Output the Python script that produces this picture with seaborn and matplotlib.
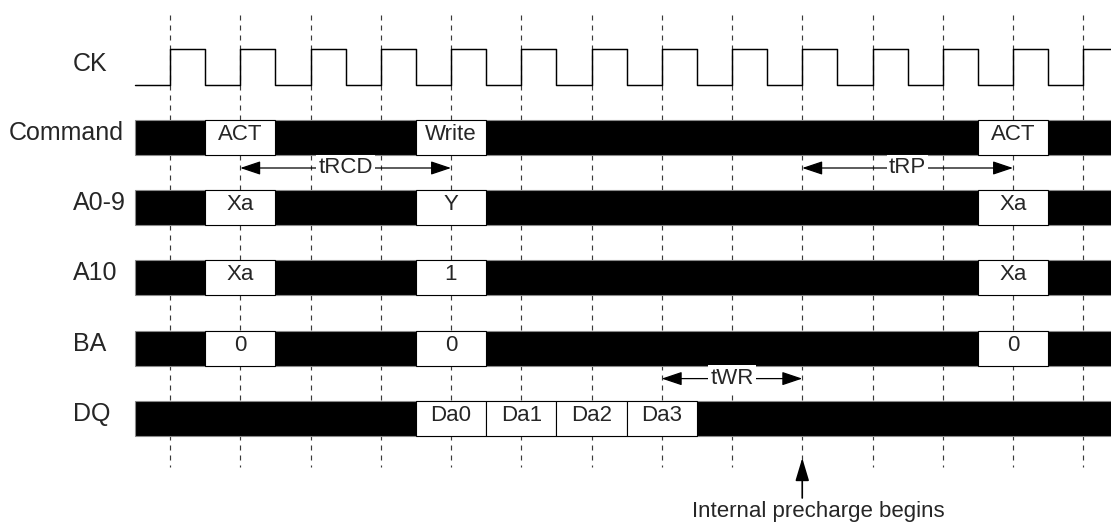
import matplotlib
matplotlib.use("Agg")
import matplotlib.pyplot as plt
import seaborn as sns
import pandas as pd
from matplotlib.patches import FancyArrowPatch

# ---------------- data ----------------
signal_names = ["Command", "A0-9", "A10", "BA", "DQ"]
command_boxes = [(1, "ACT"), (4, "Write"), (12, "ACT")]
a09_boxes = [(1, "Xa"), (4, "Y"), (12, "Xa")]
a10_boxes = [(1, "Xa"), (4, "1"), (12, "Xa")]
ba_boxes = [(1, "0"), (4, "0"), (12, "0")]
dq_boxes = [(4, "Da0"), (5, "Da1"), (6, "Da2"), (7, "Da3")]
row_boxes = [command_boxes, a09_boxes, a10_boxes, ba_boxes, dq_boxes]
clock_levels = [0, 1, 0, 1, 0, 1, 0, 1, 0, 1, 0, 1, 0, 1,
                0, 1, 0, 1, 0, 1, 0, 1, 0, 1, 0, 1, 0, 1]
clock_edges = list(range(14))            # dashed reference lines at each rising edge
timing_labels = ["tRCD", "tRP", "tWR"]
timing_from = [1, 9, 7]
timing_to = [4, 12, 9]
timing_row = [0, 0, 3]                   # arrow drawn below this row
precharge_cycle = 9
precharge_text = "Internal precharge begins"

# ---------------- layout ----------------
PX0, PER = 170.0, 70.25                  # pixel of cycle 0, pixels per cycle
W, H = 1111, 525
row_y0, row_dy, half_h = 137.5, 70.2, 17.5
ck_hi, ck_lo = 49, 85

sns.set_style("white")
plt.rcParams["font.family"] = ["Liberation Sans", "DejaVu Sans"]
plt.rcParams["lines.scale_dashes"] = False

fig = plt.figure(figsize=(W / 100, H / 100), dpi=100)
ax = fig.add_axes([0, 0, 1, 1])

# dashed vertical reference lines
ax.vlines(clock_edges, 15, 467, colors="#3a3a3a", linewidth=0.85,
          linestyles=(0, (3.6, 3.6)), zorder=1)

# clock
t = [-0.5 + 0.5 * i for i in range(len(clock_levels) + 1)]
lv = clock_levels + [clock_levels[-1]]
ck = pd.DataFrame({"t": t, "y": [ck_lo + (ck_hi - ck_lo) * l for l in lv]})
sns.lineplot(data=ck, x="t", y="y", drawstyle="steps-post", color="black",
             linewidth=1.05, ax=ax, zorder=3, estimator=None, sort=False)
ax.set_xlim(-PX0 / PER, (W - PX0) / PER)
ax.set_ylim(H, 0)
ax.axis("off")
ax.text((73 - PX0) / PER, 64, "CK", fontsize=18, ha="left", va="center")

label_x = [9, 73, 73, 73, 73]
for i, (name, boxes) in enumerate(zip(signal_names, row_boxes)):
    yc = row_y0 + row_dy * i
    ax.barh(yc, 14, left=-0.5, height=2 * half_h, color="black",
            edgecolor="#8a8a8a", linewidth=0.8, zorder=4)
    for c, lab in boxes:
        ax.barh(yc, 1, left=c - 0.5, height=2 * half_h, color="white",
                edgecolor="black", linewidth=0.8, zorder=5)
        ax.text(c, yc - 3, lab, fontsize=16, ha="center", va="center", zorder=6)
    ax.text((label_x[i] - PX0) / PER, yc - 4.5, name, fontsize=18,
            ha="left", va="center")

# timing arrows
for lab, a, b, r in zip(timing_labels, timing_from, timing_to, timing_row):
    y = row_y0 + row_dy * r + 30.5
    arr = FancyArrowPatch((a, y), (b, y),
                          arrowstyle="<|-|>,head_length=12.5,head_width=4.2",
                          mutation_scale=1, shrinkA=0, shrinkB=0,
                          color="black", linewidth=0.9, zorder=7)
    ax.add_patch(arr)
    ax.text((a + b) / 2, y - 0.5, lab, fontsize=16, ha="center", va="center",
            zorder=8, bbox=dict(boxstyle="square,pad=0.1", fc="white", ec="none"))

# internal precharge arrow
arr = FancyArrowPatch((precharge_cycle, 498), (precharge_cycle, 458),
                      arrowstyle="-|>,head_length=14,head_width=4.2",
                      mutation_scale=1, shrinkA=0, shrinkB=0,
                      color="black", linewidth=1.2, zorder=7)
ax.add_patch(arr)
ax.text(precharge_cycle + 16 / PER, 512, precharge_text, fontsize=16,
        ha="center", va="center")

fig.savefig("out.png", dpi=100)
